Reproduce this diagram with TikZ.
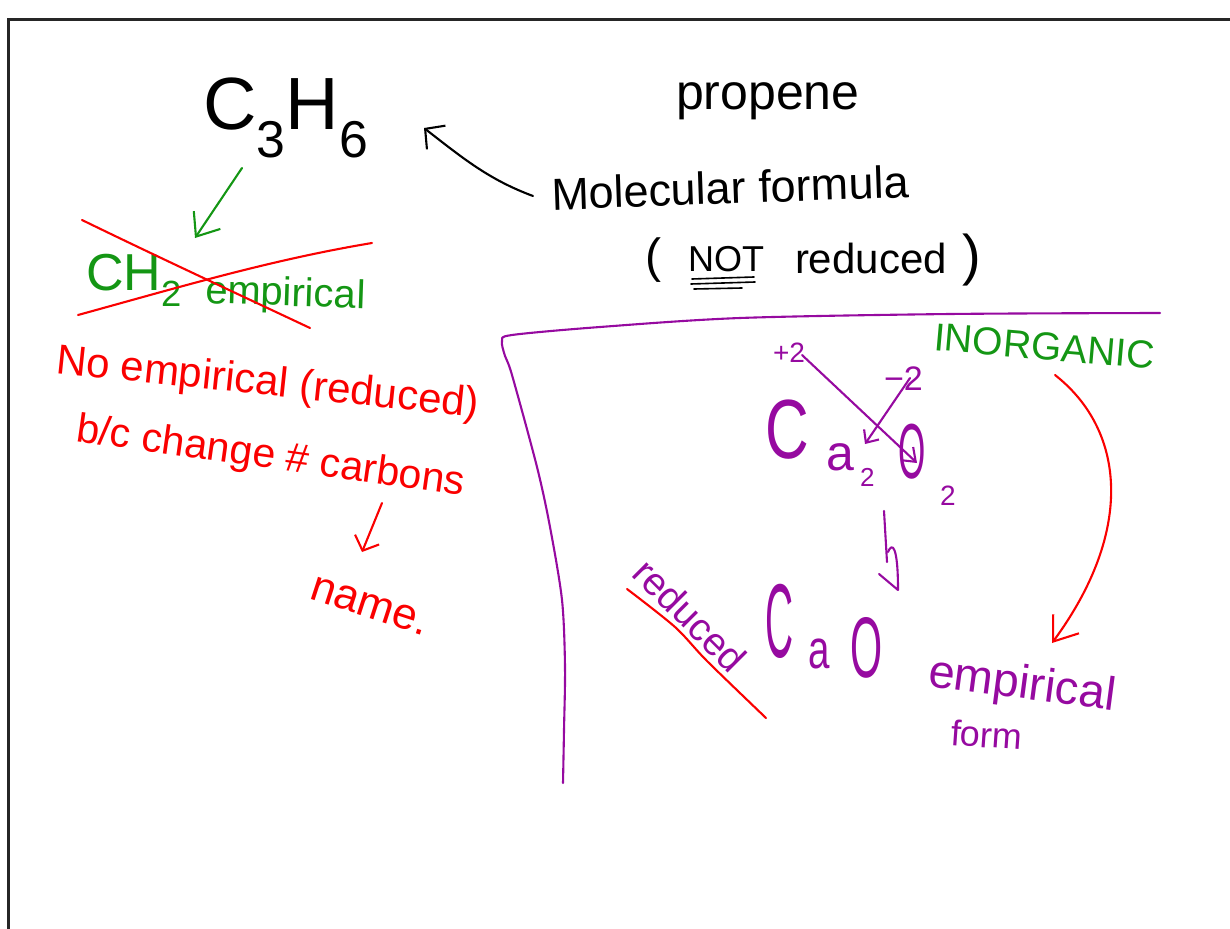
\documentclass[tikz,border=0pt]{standalone}
\usepackage{fontspec}
\setmainfont{Liberation Sans}
\usetikzlibrary{arrows.meta}
\definecolor{hgreen}{RGB}{20,150,20}
\definecolor{hred}{RGB}{250,0,0}
\definecolor{hpurple}{RGB}{150,10,160}
\newcommand\fsz[1]{\fontsize{#1}{#1}\selectfont}
\tikzset{
  txt/.style={inner sep=0pt, outer sep=0pt, anchor=base west},
  pen/.style={line width=2.1pt, line cap=round, line join=round},
  barb/.style 2 args={-{Straight Barb[length=#1pt,width=#2pt]}},
}
\begin{document}
\begin{tikzpicture}[x=1pt,y=-1pt]
\useasboundingbox (0,0) rectangle (1230,928);
% frame
\draw[line width=3pt, black!85] (8,930) -- (8,20) -- (1232,20);

% ---------- black ----------
\node[txt,font=\fsz{74}] (c3h6) at (203,130) {C\textsubscript{3}H\textsubscript{6}};
\node[txt,font=\fsz{50}] (propene) at (676,110) {propene};
\node[txt,font=\fsz{45},rotate=2] (mol) at (552,210) {Molecular formula};
\node[txt,font=\fsz{48}] (lp) at (645,272) {(};
\node[txt,font=\fsz{36}] (not) at (688,271) {NOT};
\node[txt,font=\fsz{42}] (red1) at (795,273) {reduced};
\node[txt,font=\fsz{56}] (rp) at (962,274) {)};
\draw[pen,line width=1.6pt] (692,279) -- (754,277) (691,284) -- (755,282) (694,289) -- (742,288);
\coordinate (a1s) at (533,196);
\coordinate (a1e) at (424,128);
\draw[pen,barb={14}{30}] (a1s) .. controls (490,180) and (465,160) .. (a1e);

% ---------- green ----------
\node[txt,font=\fsz{52},text=hgreen] (ch2) at (86,290) {CH\textsubscript{2}};
\node[txt,font=\fsz{40},text=hgreen,rotate=-2] (emp1) at (205,303) {empirical};
\node[txt,font=\fsz{39},text=hgreen,rotate=-5] (inorg) at (933,350) {INORGANIC};
\coordinate (g1s) at (242,168);
\coordinate (g1e) at (195,238);
\draw[pen,hgreen,barb={20}{32}] (g1s) -- (g1e);

% ---------- red ----------
\draw[pen,hred] (82,220) .. controls (160,258) and (240,295) .. (310,328);
\draw[pen,hred] (78,315) .. controls (180,287) and (270,260) .. (372,243);
\node[txt,font=\fsz{42},text=hred,rotate=-6] (noemp) at (55,373) {No empirical (reduced)};
\node[txt,font=\fsz{41},text=hred,rotate=-8] (bc) at (75,441) {b/c change \# carbons};
\node[txt,font=\fsz{44},text=hred,rotate=-18] (name) at (308,598) {name.};
\coordinate (r1s) at (382,503);
\coordinate (r1e) at (362,552);
\draw[pen,hred,barb={12}{26}] (r1s) -- (r1e);
\coordinate (r2s) at (1055,375);
\coordinate (r2e) at (1052,643);
\draw[pen,hred,barb={22}{32}] (r2s) .. controls (1125,430) and (1135,530) .. (r2e);
\draw[pen,hred] plot[smooth] coordinates {(627,589) (675,627) (707,661) (766,718)};

% ---------- purple ----------
\draw[pen,hpurple] plot[smooth] coordinates {(1160,313) (950,314) (740,318) (600,327) (512,335) (502,341) (505,356) (512,375) (537,467) (550,527) (562,600) (565,667) (564,730) (563,783)};
\node[txt,font=\fsz{28},text=hpurple] (p2) at (773,362) {+2};
\node[txt,font=\fsz{34},text=hpurple] (m2) at (884,390) {−2};
\node[txt,font=\fsz{84},text=hpurple] (ca) at (765,458) {\scalebox{0.72}[1]{C}};
\node[txt,font=\fsz{50},text=hpurple] (a1) at (826,470) {a};
\node[txt,font=\fsz{26},text=hpurple] (s1) at (860,486) {2};
\node[txt,font=\fsz{78},text=hpurple] (o1) at (898,478) {\scalebox{0.45}[1]{O}};
\node[txt,font=\fsz{28},text=hpurple] (s2) at (940,505) {2};
\coordinate (pa1s) at (802,355);
\coordinate (pa1e) at (917,463);
\draw[pen,hpurple,barb={12}{18}] (pa1s) -- (pa1e);
\coordinate (pa2s) at (910,378);
\coordinate (pa2e) at (865,444);
\draw[pen,hpurple,barb={10}{18}] (pa2s) -- (pa2e);
\draw[pen,hpurple] (884,511) -- (887,562);
\draw[pen,hpurple] (888,552) .. controls (892,542) and (898,545) .. (898,590) -- (879,574);
\node[txt,font=\fsz{105},text=hpurple] (c2) at (765,657) {\scalebox{0.37}[1]{C}};
\node[txt,font=\fsz{55},text=hpurple] (a2) at (808,668) {\scalebox{0.7}[1]{a}};
\node[txt,font=\fsz{86},text=hpurple] (o2) at (850,677) {\scalebox{0.48}[1]{O}};
\node[inner sep=0pt,font=\fsz{39},text=hpurple,rotate=-45] (red2) at (690,615) {reduced};
\node[txt,font=\fsz{47},text=hpurple,rotate=-7.5] (emp2) at (927,686) {empirical};
\node[txt,font=\fsz{36},text=hpurple,rotate=-4] (form) at (950,745) {form};
\end{tikzpicture}
\end{document}
